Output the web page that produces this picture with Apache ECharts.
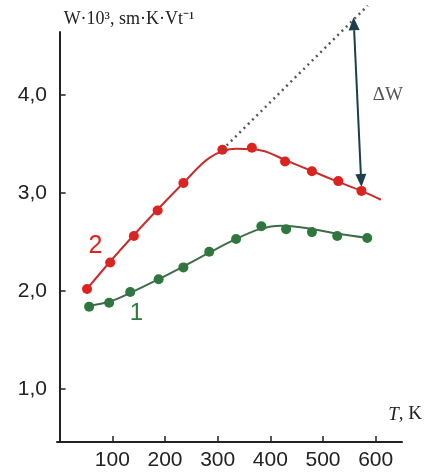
<!DOCTYPE html>
<html>
<head>
<meta charset="utf-8">
<script src="https://cdn.jsdelivr.net/npm/echarts@6/dist/echarts.min.js"></script>
<style>
  html, body { margin: 0; padding: 0; background: #fff; }
  #chart { width: 425px; height: 474px; }
</style>
</head>
<body>
<div id="chart"></div>
<script>
// measured points, T (K) vs W
const pts1 = [[56,1.84],[94,1.88],[134,1.99],[188,2.12],[235,2.24],[284,2.40],[335,2.53],[383,2.66],[430,2.63],[479,2.60],[527,2.56],[584,2.54]];
const pts2 = [[52,2.02],[96,2.29],[141,2.56],[186,2.82],[235,3.10],[309,3.44],[365,3.46],[428,3.32],[479,3.22],[529,3.12],[573,3.02]];

// fitted curves
const fit1 = [[56,1.85],[94,1.89],[134,1.98],[188,2.12],[235,2.25],[284,2.39],[335,2.53],[380,2.63],[420,2.665],[470,2.64],[527,2.585],[584,2.54]];
const fit2 = [[52,2.02],[96,2.30],[141,2.57],[186,2.83],[235,3.10],[285,3.36],[335,3.45],[385,3.43],[430,3.33],[480,3.22],[530,3.11],[573,3.02],[610,2.93]];

// dotted extrapolation and the ΔW arrow
const extrap = [[309,3.44],[585,4.91]];
const arrow = [[558,4.79],[573,3.06]];

const xTicks = [100,200,300,400,500,600];
const yTicks = [1,2,3,4];

const red = "#e3211c";
const green = "#2b7a3b";
const arrowColor = "#1d3f4a";

// double-headed arrow between two data points
function renderArrow(params, api) {
  const a = api.coord([api.value(0), api.value(1)]);
  const b = api.coord([api.value(2), api.value(3)]);
  const dx = b[0] - a[0], dy = b[1] - a[1];
  const len = Math.hypot(dx, dy);
  const ux = dx / len, uy = dy / len;
  const hl = 13, hw = 5.5;
  const head = (tip, dir) => {
    const bx = tip[0] - dir[0] * hl, by = tip[1] - dir[1] * hl;
    return {
      type: "polygon",
      shape: { points: [tip, [bx - dir[1] * hw, by + dir[0] * hw], [bx + dir[1] * hw, by - dir[0] * hw]] },
      style: { fill: arrowColor }
    };
  };
  return {
    type: "group",
    children: [
      {
        type: "line",
        shape: { x1: a[0] + ux * hl, y1: a[1] + uy * hl, x2: b[0] - ux * hl, y2: b[1] - uy * hl },
        style: { stroke: arrowColor, lineWidth: 2 }
      },
      head(a, [-ux, -uy]),
      head(b, [ux, uy])
    ]
  };
}

const chart = echarts.init(document.getElementById("chart"));

chart.setOption({
  animation: false,
  grid: { left: 57, right: 23, top: 32, bottom: 32 },
  xAxis: {
    type: "value",
    min: -5, max: 650,
    splitLine: { show: false },
    axisLine: { lineStyle: { color: "#222", width: 2 } },
    axisTick: { inside: true, length: 6, customValues: xTicks, lineStyle: { color: "#222", width: 1.5 } },
    axisLabel: { customValues: xTicks, color: "#222", fontSize: 21, fontFamily: "Liberation Sans", margin: 8 },
    name: "{i|T}{n|, K}",
    nameLocation: "end",
    nameGap: 0,
    nameTextStyle: {
      align: "right", verticalAlign: "bottom", padding: [0, -20, 18, 0],
      rich: {
        i: { fontFamily: "Liberation Serif", fontStyle: "italic", fontSize: 19, color: "#222" },
        n: { fontFamily: "Liberation Serif", fontSize: 19, color: "#222" }
      }
    }
  },
  yAxis: {
    type: "value",
    min: 0.46, max: 4.64,
    splitLine: { show: false },
    axisLine: { lineStyle: { color: "#222", width: 2 } },
    axisTick: { inside: true, length: 6, customValues: yTicks, lineStyle: { color: "#222", width: 1.5 } },
    axisLabel: {
      customValues: yTicks, color: "#222", fontSize: 21, fontFamily: "Liberation Sans", margin: 10,
      formatter: v => v.toFixed(1).replace(".", ",")
    },
    name: "W·10³, sm·K·Vt⁻¹",
    nameLocation: "end",
    nameGap: 4,
    nameTextStyle: { align: "left", color: "#222", fontSize: 18, fontFamily: "Liberation Serif", padding: [0, 0, 0, 4] }
  },
  series: [
    {
      type: "line", data: extrap, clip: false, symbol: "none", silent: true,
      lineStyle: { color: "#555", width: 2.5, type: [2, 4] },
      markPoint: {
        symbol: "circle", symbolSize: 1, silent: true,
        itemStyle: { color: "transparent" },
        data: [
          { coord: [623, 4.0], label: { show: true, position: "inside", formatter: "ΔW", color: "#555", fontSize: 19, fontFamily: "Liberation Serif" } },
          { coord: [68, 2.46], label: { show: true, position: "inside", formatter: "2", color: red, fontSize: 25, fontFamily: "Liberation Sans" } },
          { coord: [146, 1.77], label: { show: true, position: "inside", formatter: "1", color: green, fontSize: 24, fontFamily: "Liberation Sans" } }
        ]
      }
    },
    {
      type: "line", data: fit2, smooth: 0.35, symbol: "none",
      lineStyle: { color: "#cc2b2b", width: 2 }
    },
    {
      type: "line", data: fit1, smooth: 0.35, symbol: "none",
      lineStyle: { color: "#3b6e47", width: 2 }
    },
    {
      type: "scatter", data: pts2, symbolSize: 10, itemStyle: { color: red, opacity: 1 }
    },
    {
      type: "scatter", data: pts1, symbolSize: 10, itemStyle: { color: green, opacity: 1 }
    },
    {
      type: "custom", clip: false, silent: true,
      data: [[arrow[0][0], arrow[0][1], arrow[1][0], arrow[1][1]]],
      encode: { x: [0, 2], y: [1, 3] },
      renderItem: renderArrow
    }
  ]
});
</script>
</body>
</html>
